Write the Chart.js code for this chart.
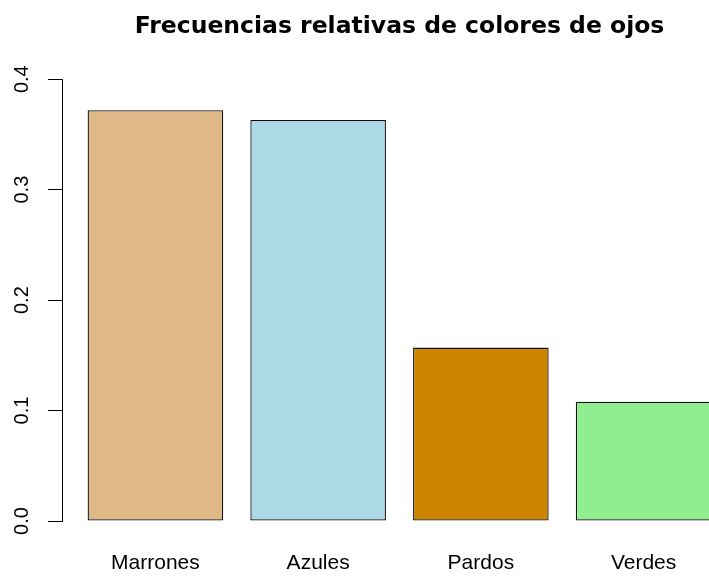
<!DOCTYPE html>
<html>
<head>
<meta charset="utf-8">
<script src="https://cdn.jsdelivr.net/npm/chart.js@4"></script>
<style>
  html, body { margin: 0; padding: 0; background: #fff; overflow: hidden; }
  #wrap { width: 737px; height: 576px; }
</style>
</head>
<body>
<div id="wrap"><canvas id="ojos" width="737" height="576"></canvas></div>
<script>
// frecuencias relativas por color de ojos
const categorias = ['Marrones', 'Azules', 'Pardos', 'Verdes'];
const frecuencias = [0.372, 0.363, 0.157, 0.108];
const colores = ['#DEB887', '#ADD8E6', '#CD8500', '#90EE90'];
const yTicks = [0, 0.1, 0.2, 0.3, 0.4];

const fuente = "'Liberation Sans', Arial, Helvetica, sans-serif";

new Chart(document.getElementById('ojos').getContext('2d'), {
    type: 'bar',
    data: {
        datasets: [{
            data: frecuencias.map((v, i) => ({ x: i, y: v })),
            backgroundColor: colores,
            borderColor: '#111',
            borderWidth: 1.3,
            borderSkipped: false,
            categoryPercentage: 1,
            barPercentage: 1 / 1.2,
        }]
    },
    options: {
        responsive: false,
        animation: false,
        layout: { padding: 0 },
        plugins: {
            legend: false,
            tooltip: { enabled: false },
            title: {
                display: true,
                text: 'Frecuencias relativas de colores de ojos',
                fullSize: false,
                color: '#000',
                font: { family: "'DejaVu Sans', sans-serif", size: 23.5, weight: 'bold', lineHeight: 1.2 },
                padding: { top: 13, bottom: 38 },
            },
        },
        scales: {
            x: {
                type: 'linear',
                offset: false,
                min: -0.574,
                max: 3.574,
                grid: { display: false, drawTicks: false, offset: false },
                border: { display: false },
                afterBuildTicks: (scale) => {
                    scale.ticks = categorias.map((c, i) => ({ value: i }));
                },
                afterFit: (scale) => { scale.height = 55; },
                ticks: {
                    color: '#000',
                    padding: 30,
                    maxRotation: 0,
                    font: { family: fuente, size: 21 },
                    callback: (v) => categorias[v],
                },
            },
            y: {
                min: 0,
                max: 0.4,
                afterBuildTicks: (scale) => {
                    scale.ticks = yTicks.map(v => ({ value: v }));
                },
                afterFit: (scale) => { scale.width = 62; },
                grid: { drawOnChartArea: false, tickLength: 14, color: '#000', lineWidth: 1 },
                border: { display: true, color: '#000', width: 1 },
                ticks: {
                    color: '#000',
                    padding: 12,
                    minRotation: 90,
                    maxRotation: 90,
                    crossAlign: 'center',
                    font: { family: fuente, size: 20 },
                    callback: (v) => v.toFixed(1),
                },
            },
        },
    }
});
</script>
</body>
</html>
